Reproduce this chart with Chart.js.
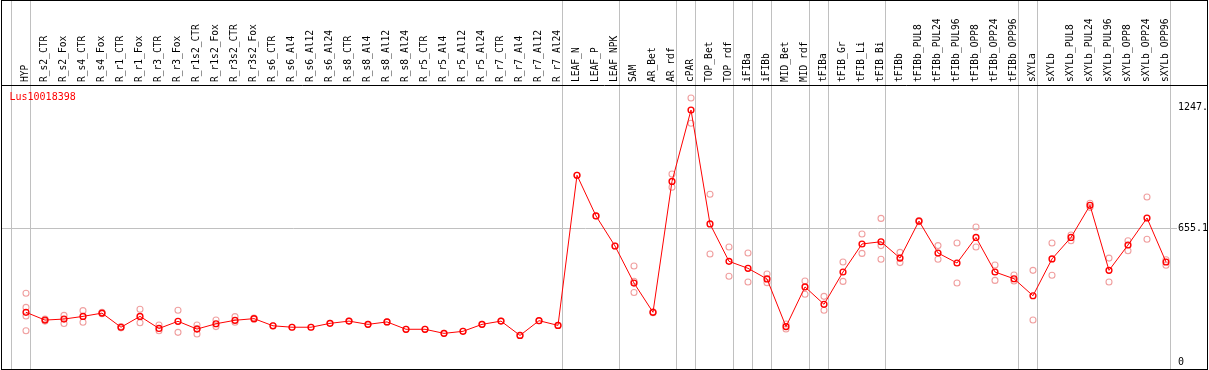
<!DOCTYPE html>
<html><head><meta charset="utf-8">
<script src="https://cdn.jsdelivr.net/npm/chart.js@4/dist/chart.umd.min.js"></script>
<style>html,body{margin:0;padding:0;background:#fff;overflow:hidden}</style>
</head><body>
<canvas id="c" width="1209" height="370"></canvas>
<script>
const categories = ['HYP','R_s2_CTR','R_s2_Fox','R_s4_CTR','R_s4_Fox','R_r1_CTR','R_r1_Fox','R_r3_CTR','R_r3_Fox','R_r1s2_CTR','R_r1s2_Fox','R_r3s2_CTR','R_r3s2_Fox','R_s6_CTR','R_s6_Al4','R_s6_Al12','R_s6_Al24','R_s8_CTR','R_s8_Al4','R_s8_Al12','R_s8_Al24','R_r5_CTR','R_r5_Al4','R_r5_Al12','R_r5_Al24','R_r7_CTR','R_r7_Al4','R_r7_Al12','R_r7_Al24','LEAF_N','LEAF_P','LEAF_NPK','SAM','AR_Bet','AR_rdf','cPAR','TOP_Bet','TOP_rdf','iFIBa','iFIBb','MID_Bet','MID_rdf','tFIBa','tFIB_Gr','tFIB_Li','tFIB_Bi','tFIBb','tFIBb_PUL8','tFIBb_PUL24','tFIBb_PUL96','tFIBb_OPP8','tFIBb_OPP24','tFIBb_OPP96','sXYLa','sXYLb','sXYLb_PUL8','sXYLb_PUL24','sXYLb_PUL96','sXYLb_OPP8','sXYLb_OPP24','sXYLb_OPP96'];
const seriesName = 'Lus10018398';
const meanValues = [243,205,210,223,239,170,223,164,199,161,187,204,212,177,170,170,189,200,184,196,160,160,140,150,184,200,130,202,179,913,714,567,386,243,883,1232,675,492,458,406,173,367,282,440,577,588,508,689,533,484,609,440,407,324,504,609,766,448,572,704,489];
const replicateValues = [[336,267,225,153],[210,200],[228,188],[251,194],[243,236],[173,167],[258,192],[181,153],[253,145],[181,137,163],[205,173],[222,194],[215,209],[177],[170],[170],[189],[200],[184],[196],[160],[160],[140],[150],[184],[200],[130],[202],[179],[913],[714],[567],[469,395,340],[245,241],[919,854],[1291,1167],[820,528],[562,419],[533,391],[430,388],[186,161],[396,331],[321,253],[489,394],[626,531],[702,569,502],[536,486],[692,686],[569,502],[582,386],[660,562],[474,399],[425,396],[448,205],[582,424],[621,593],[776,756],[508,391],[593,544],[807,600],[500,473]];
const yTickValues = [0, 655.1, 1247];
const yTickLabels = ['0', '655.1', '1247.'];
const groupEnds = [-1, 0, 28, 31, 34, 35, 37, 38, 39, 41, 42, 45, 52, 53, 60];

const monoFont = 'DejaVu Sans Mono';
const meanPoints = meanValues.map((v, i) => ({x: i, y: v}));
const repPoints = [];
replicateValues.forEach((arr, i) => arr.forEach(v => repPoints.push({x: i, y: v})));

const decor = {
  id: 'decor',
  beforeDatasetsDraw(chart) {
    const ctx = chart.ctx, xs = chart.scales.x;
    ctx.save();
    ctx.strokeStyle = '#c0c0c0';
    ctx.lineWidth = 1;
    groupEnds.forEach(g => {
      const px = Math.round(xs.getPixelForValue(g + 0.23)) + 0.5;
      ctx.beginPath(); ctx.moveTo(px, 0); ctx.lineTo(px, chart.height); ctx.stroke();
    });
    ctx.restore();
  },
  afterDraw(chart) {
    const ctx = chart.ctx, a = chart.chartArea;
    ctx.save();
    ctx.strokeStyle = '#000';
    ctx.lineWidth = 1;
    ctx.strokeRect(1.5, 0.5, chart.width - 3, chart.height - 1);
    ctx.beginPath(); ctx.moveTo(1, a.top + 0.5); ctx.lineTo(chart.width - 1, a.top + 0.5); ctx.stroke();
    ctx.fillStyle = '#ff0000';
    ctx.font = '10px "' + monoFont + '"';
    ctx.textBaseline = 'middle';
    ctx.textAlign = 'left';
    ctx.fillText(chart.data.datasets[0].label, a.left + 8.5, a.top + 12);
    ctx.restore();
  }
};

new Chart(document.getElementById('c'), {
  data: {
    datasets: [
      {type: 'line', label: seriesName, data: meanPoints, borderColor: '#ff0000', borderWidth: 1,
       pointStyle: 'circle', pointRadius: 2.9, pointBorderWidth: 1.4, pointBorderColor: '#ff0000',
       pointBackgroundColor: 'rgba(0,0,0,0)', tension: 0, fill: false},
      {type: 'scatter', label: 'replicates', data: repPoints, showLine: false,
       pointStyle: 'circle', pointRadius: 3, pointBorderWidth: 1.1, pointBorderColor: '#f0a0a0',
       pointBackgroundColor: 'rgba(0,0,0,0)'}
    ]
  },
  options: {
    responsive: false, animation: false, devicePixelRatio: 1,
    layout: {autoPadding: false, padding: {left: 1, top: 0, right: 0, bottom: 1}},
    plugins: {legend: {display: false}, tooltip: {enabled: false}},
    scales: {
      x: {type: 'linear', position: 'top', min: -25/19, max: 60 + 4/19, bounds: 'data',
        afterBuildTicks: s => { s.ticks = categories.map((c, i) => ({value: i})); },
        afterFit: s => { s.height = 85; s.paddingLeft = 0; s.paddingRight = 0; },
        grid: {display: false, drawTicks: false},
        border: {display: false},
        ticks: {autoSkip: false, minRotation: 90, maxRotation: 90, padding: 3, labelOffset: 10.9,
          color: '#000', font: {family: monoFont, size: 9.6},
          callback: v => categories[v]}
      },
      y: {type: 'linear', position: 'right', min: -34.2, max: 1354.2, bounds: 'data',
        afterBuildTicks: s => { s.ticks = yTickValues.map(v => ({value: v})); },
        afterFit: s => { s.width = 39; s.paddingTop = 0; s.paddingBottom = 0; },
        grid: {color: c => (c.tick && c.tick.value === 655.1) ? '#c0c0c0' : 'rgba(0,0,0,0)', tickLength: 7, drawTicks: true},
        border: {display: false},
        ticks: {padding: 1, color: '#000', font: {family: monoFont, size: 10},
          labelOffset: c => (c.tick && c.tick.value === 655.1) ? 4 : 0,
          callback: (v, i) => yTickLabels[i]}
      }
    }
  },
  plugins: [decor]
});
</script>
</body></html>
